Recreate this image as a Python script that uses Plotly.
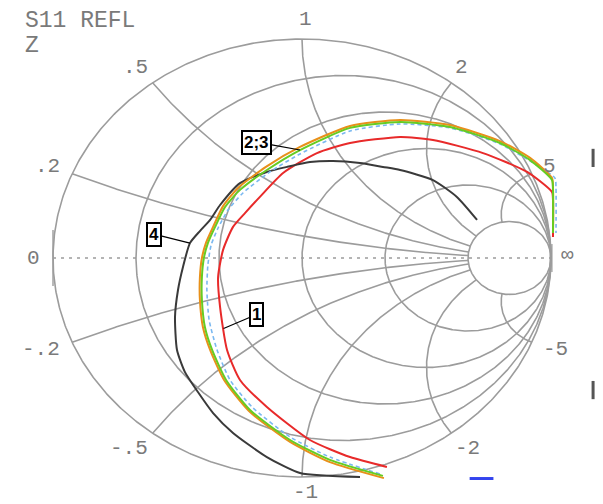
import numpy as np
import plotly.graph_objects as go

# ---------------- data: S11 reflection coefficient (real, imag) ----------------
TRACE1_RE = [0.341, 0.193, 0.032, -0.141, -0.249, -0.301, -0.329, -0.337, -0.317, -0.277,
             -0.229, -0.169, -0.076, 0.060, 0.193, 0.394, 0.526, 0.727, 0.904, 1.004, 1.008, 1.008]
TRACE1_IM = [-0.954, -0.909, -0.831, -0.680, -0.557, -0.420, -0.224, -0.087, 0.037, 0.142,
             0.205, 0.279, 0.388, 0.479, 0.525, 0.553, 0.539, 0.479, 0.393, 0.301, 0.265, 0.096]

TRACE2_RE = [0.325, 0.112, -0.048, -0.209, -0.305, -0.361, -0.390, -0.402, -0.402, -0.394,
             -0.378, -0.349, -0.309, -0.249, -0.141, -0.008, 0.193, 0.394, 0.594, 0.795,
             0.916, 1.004, 1.008, 1.008]
TRACE2_IM = [-0.995, -0.922, -0.831, -0.694, -0.557, -0.420, -0.315, -0.192, -0.087, 0.000,
             0.068, 0.142, 0.233, 0.311, 0.402, 0.493, 0.594, 0.621, 0.598, 0.525,
             0.447, 0.356, 0.311, 0.114]

TRACE3_RE = [0.329, 0.112, -0.048, -0.213, -0.313, -0.369, -0.398, -0.410, -0.410, -0.402,
             -0.386, -0.357, -0.317, -0.257, -0.145, -0.008, 0.193, 0.394, 0.594, 0.795,
             0.916, 1.004, 1.008, 1.008]
TRACE3_IM = [-1.005, -0.932, -0.840, -0.699, -0.557, -0.420, -0.315, -0.192, -0.087, 0.000,
             0.068, 0.142, 0.237, 0.320, 0.416, 0.507, 0.603, 0.630, 0.607, 0.534,
             0.457, 0.365, 0.320, 0.114]

TRACE3B_RE = [0.313, 0.112, -0.048, -0.201, -0.289, -0.341, -0.373, -0.382, -0.378, -0.365,
              -0.337, -0.297, -0.237, -0.129, -0.008, 0.193, 0.394, 0.594, 0.795, 0.916,
              1.016, 1.020, 1.020]
TRACE3B_IM = [-0.986, -0.909, -0.817, -0.680, -0.557, -0.420, -0.283, -0.146, -0.032, 0.059,
              0.137, 0.219, 0.297, 0.393, 0.475, 0.580, 0.612, 0.594, 0.521, 0.443,
              0.365, 0.320, 0.114]

TRACE4_RE = [0.233, -0.008, -0.141, -0.277, -0.357, -0.418, -0.470, -0.502, -0.510, -0.498,
             -0.478, -0.450, -0.410, -0.369, -0.329, -0.249, -0.141, -0.060, 0.032, 0.124,
             0.233, 0.325, 0.394, 0.526, 0.622, 0.703]
TRACE4_IM = [-1.000, -0.982, -0.909, -0.799, -0.708, -0.612, -0.521, -0.420, -0.269, -0.146,
             -0.041, 0.068, 0.123, 0.174, 0.242, 0.342, 0.393, 0.416, 0.438, 0.443,
             0.434, 0.416, 0.402, 0.356, 0.279, 0.174]

# ---------------- graticule ticks ----------------
R_TICKS = [0.2, 0.5, 1, 2, 5]
X_TICKS = [0.2, 0.5, 1, 2, 5]
X_POS_TEXT = [".2", ".5", "1", "2", "5"]
X_NEG_TEXT = ["-.2", "-.5", "-1", "-2", "-5"]
TITLE_LINES = ["S11 REFL", "Z"]

GRID = "#9c9c9c"
TXT = "#7a7a7a"
MONO = "Liberation Mono"

# the page body has an 8 px margin: the figure is drawn 8 px in from the window edge
OFF = 8
W, H = 603 - OFF, 504 - OFF
CX, CY, RX, RY = 302, 258, 249, 219   # chart centre / radii in window pixels


def gamma(z):
    return (z - 1) / (z + 1)


fig = go.Figure()

# outer circle (r = 0)
t = np.linspace(0, 2 * np.pi, 721)
fig.add_trace(go.Scatter(x=np.cos(t), y=np.sin(t), mode="lines",
                         line=dict(color=GRID, width=1.6), hoverinfo="skip"))

# resistance circles
tt = np.linspace(-np.pi / 2 + 1e-4, np.pi / 2 - 1e-4, 801)
for r in R_TICKS:
    g = gamma(r + 1j * np.tan(tt))
    fig.add_trace(go.Scatter(x=g.real, y=g.imag, mode="lines",
                             line=dict(color=GRID, width=1.6), hoverinfo="skip"))

# reactance arcs, clipped at the largest resistance circle
rr = np.concatenate([np.linspace(0, 1, 200), np.linspace(1, max(R_TICKS), 200)])
for xv in X_TICKS:
    for s in (1, -1):
        g = gamma(rr + 1j * s * xv)
        fig.add_trace(go.Scatter(x=g.real, y=g.imag, mode="lines",
                                 line=dict(color=GRID, width=1.6), hoverinfo="skip"))

# real axis (dotted)
fig.add_trace(go.Scatter(x=[-1, 1], y=[0, 0], mode="lines",
                         line=dict(color=GRID, width=1.4, dash="3px,5px"), hoverinfo="skip"))

# end markers at 0 and infinity
fig.add_trace(go.Scatter(x=[-1, 1], y=[0, 0], mode="markers",
                         marker=dict(symbol="line-ns", size=[40, 20],
                                     line=dict(color=GRID, width=[2, 3.5])),
                         hoverinfo="skip"))

# ---------------- measurement traces ----------------
SM = 0.6
fig.add_trace(go.Scatter(x=TRACE1_RE, y=TRACE1_IM, mode="lines", name="1",
                         line=dict(color="#e82a2a", width=2, shape="spline", smoothing=SM)))
fig.add_trace(go.Scatter(x=TRACE4_RE, y=TRACE4_IM, mode="lines", name="4",
                         line=dict(color="#3a3a3a", width=2, shape="spline", smoothing=SM)))
fig.add_trace(go.Scatter(x=TRACE3B_RE, y=TRACE3B_IM, mode="lines", name="3b",
                         line=dict(color="#7ab8f0", width=1.6, dash="4px,3px",
                                   shape="spline", smoothing=SM)))
fig.add_trace(go.Scatter(x=TRACE3_RE, y=TRACE3_IM, mode="lines", name="3",
                         line=dict(color="#e8901a", width=2, shape="spline", smoothing=SM)))
fig.add_trace(go.Scatter(x=TRACE2_RE, y=TRACE2_IM, mode="lines", name="2",
                         line=dict(color="#66cc22", width=2, shape="spline", smoothing=SM)))

annotations = []
# reactance labels round the outer circle
K = 1.09
for xv, pos_t, neg_t in zip(X_TICKS, X_POS_TEXT, X_NEG_TEXT):
    for s, txt in ((1, pos_t), (-1, neg_t)):
        g = gamma(1j * s * xv) * K
        if g.real < -0.1:
            xa, xs = "right", 11
        elif g.real > 0.1:
            xa, xs = "left", -12
        else:
            xa, xs = "center", 3
        ys = 4 if s < 0 and abs(g.real) < 0.1 else 0
        annotations.append(dict(x=g.real, y=g.imag, text=txt, showarrow=False,
                                xanchor=xa, yanchor="middle", xshift=xs, yshift=ys,
                                font=dict(family=MONO, size=21, color=TXT)))
annotations.append(dict(x=-K, y=0, text="0", showarrow=False, xanchor="right", xshift=11,
                        yanchor="middle", font=dict(family=MONO, size=21, color=TXT)))
annotations.append(dict(x=K, y=0, text="\u221e", showarrow=False, xanchor="left", xshift=-14,
                        yshift=3, yanchor="middle", font=dict(family=MONO, size=21, color=TXT)))

# title lines
for i, line in enumerate(TITLE_LINES):
    annotations.append(dict(xref="paper", yref="paper", x=(23 - OFF) / W,
                            y=1 - (21 + 25 * i - OFF) / H,
                            text=line, showarrow=False, xanchor="left", yanchor="middle",
                            font=dict(family=MONO, size=23, color=TXT)))

# trace labels
box = dict(showarrow=True, arrowhead=0, arrowwidth=1.2, arrowcolor="black", standoff=0,
           bordercolor="black", borderwidth=2, borderpad=1, bgcolor="white",
           font=dict(family="Liberation Sans", size=17, color="black"))
annotations.append(dict(x=(TRACE1_RE[5] + TRACE1_RE[6]) / 2, y=(TRACE1_IM[5] + TRACE1_IM[6]) / 2,
                        text="<b>1</b>", ax=33, ay=-14, **box))
annotations.append(dict(x=TRACE2_RE[15], y=TRACE2_IM[15], text="<b>2;3</b>", ax=-44, ay=-8, **box))
annotations.append(dict(x=TRACE4_RE[11], y=TRACE4_IM[11], text="<b>4</b>", ax=-36, ay=-9, **box))

# screen tick marks at the right edge and the blue marker stub
fig.add_trace(go.Scatter(x=[1.169, 1.169], y=[0.457, -0.603], mode="markers",
                         marker=dict(symbol="line-ns", size=13, line=dict(color="#555555", width=3)),
                         hoverinfo="skip"))
fig.add_trace(go.Scatter(x=[0.721], y=[-1.007], mode="markers",
                         marker=dict(symbol="line-ew", size=17, line=dict(color="#3344ee", width=3)),
                         hoverinfo="skip"))

fig.update_layout(
    width=W, height=H, autosize=False,
    margin=dict(l=0, r=0, t=0, b=0),
    paper_bgcolor="white", plot_bgcolor="white",
    showlegend=False,
    xaxis=dict(range=[(OFF - CX) / RX, (603 - CX) / RX], visible=False, fixedrange=True),
    yaxis=dict(range=[(CY - 504) / RY, (CY - OFF) / RY], visible=False, fixedrange=True),
    annotations=annotations,
)

fig.write_html("out.html")
